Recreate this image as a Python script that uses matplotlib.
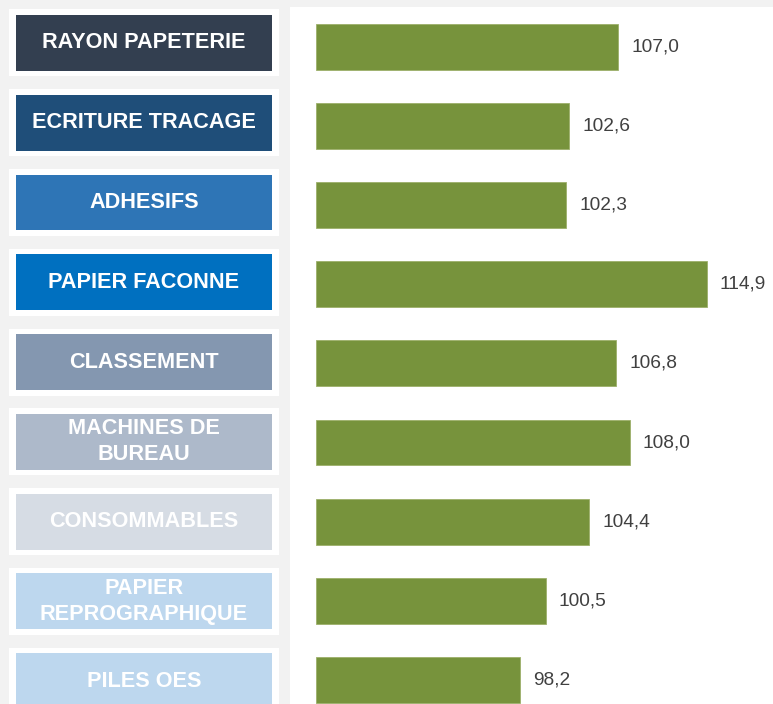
import matplotlib
matplotlib.use("Agg")
import matplotlib.pyplot as plt
from matplotlib.patches import Rectangle

categories = ["RAYON PAPETERIE", "ECRITURE TRACAGE", "ADHESIFS", "PAPIER FACONNE",
              "CLASSEMENT", "MACHINES DE\nBUREAU", "CONSOMMABLES",
              "PAPIER\nREPROGRAPHIQUE", "PILES OES"]
values = [107.0, 102.6, 102.3, 114.9, 106.8, 108.0, 104.4, 100.5, 98.2]
BASE = 80.0

box_colors = ["#333F50", "#1F4E79", "#2E75B6", "#0070C0", "#8497B0",
              "#ADB9CA", "#D6DCE4", "#BDD7EE", "#BDD7EE"]
bar_color = "#77933C"
bg = "#F2F2F2"

plt.rcParams['font.family'] = ['Liberation Sans', 'DejaVu Sans']

W, H = 773, 704
fig = plt.figure(figsize=(W / 100, H / 100), dpi=100, facecolor=bg)

# Left label panel
axl = fig.add_axes([0, 0, 290 / W, 1])
axl.set_xlim(0, 290)
axl.set_ylim(8.288, -0.539)
axl.axis("off")
for i, (cat, col) in enumerate(zip(categories, box_colors)):
    axl.add_patch(Rectangle((9, i - 0.42), 270, 0.84, facecolor="white", edgecolor="none"))
    axl.add_patch(Rectangle((16, i - 0.351), 256, 0.702, facecolor=col, edgecolor="none"))
    axl.text(144, i, cat, ha="center", va="center", color="white", fontsize=15.6,
             fontweight="bold", linespacing=1.33)

# Right bar panel
ax = fig.add_axes([290 / W, 0, 483 / W, 697 / H])
ax.set_facecolor("white")
ax.set_xlim(77.63, 120.83)
ax.set_ylim(8.306, -0.506)
for s in ax.spines.values():
    s.set_visible(False)
ax.set_xticks([])
ax.set_yticks([])
idx = list(range(len(values)))
ax.barh(idx, [v - BASE for v in values], left=BASE, height=0.58, color=bar_color,
        edgecolor="#9DB06A", linewidth=0.6)
for i, v in enumerate(values):
    ax.annotate(f"{v:.1f}".replace(".", ","), xy=(v, i), xytext=(9.5, 0),
                textcoords="offset points", ha="left", va="center",
                fontsize=13.8, color="#404040")

fig.savefig("out.png", dpi=100, facecolor=bg)
